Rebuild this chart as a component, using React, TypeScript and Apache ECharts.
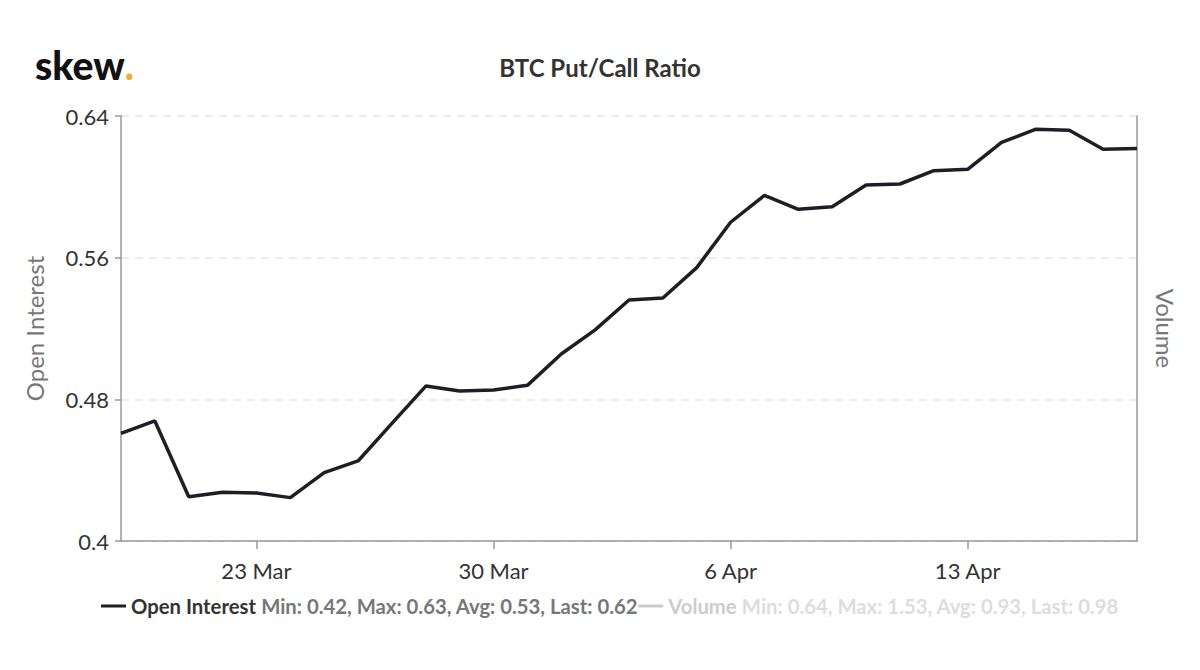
import React, { useEffect, useRef } from "react";
import * as echarts from "echarts";

const dates: string[] = [
  "19 Mar", "20 Mar", "21 Mar", "22 Mar", "23 Mar", "24 Mar", "25 Mar", "26 Mar", "27 Mar", "28 Mar",
  "29 Mar", "30 Mar", "31 Mar", "1 Apr", "2 Apr", "3 Apr", "4 Apr", "5 Apr", "6 Apr", "7 Apr",
  "8 Apr", "9 Apr", "10 Apr", "11 Apr", "12 Apr", "13 Apr", "14 Apr", "15 Apr", "16 Apr", "17 Apr", "18 Apr",
];

const openInterest: number[] = [
  0.4608, 0.4678, 0.425, 0.4275, 0.4271, 0.4245, 0.4386, 0.4452, 0.4664, 0.4875,
  0.4847, 0.4853, 0.4879, 0.5056, 0.5192, 0.5361, 0.5372, 0.5544, 0.58, 0.5952,
  0.5873, 0.5888, 0.601, 0.6016, 0.6091, 0.6099, 0.6251, 0.6325, 0.6319, 0.6212, 0.6216,
];

// Volume series is hidden in the reference (legend item disabled); its values are not visible.
const volume: number[] = [];

const tickLabels: string[] = ["23 Mar", "30 Mar", "6 Apr", "13 Apr"];
const yTicks: number[] = [0.4, 0.48, 0.56, 0.64];

const openInterestStats = "Min: 0.42, Max: 0.63, Avg: 0.53, Last: 0.62";
const volumeStats = "Min: 0.64, Max: 1.53, Avg: 0.93, Last: 0.98";

const FONT = "Lato, 'Noto Sans', sans-serif";
const LEGEND_FS = 20.3;

export default function App() {
  const ref = useRef<HTMLDivElement>(null);

  useEffect(() => {
    if (!ref.current) return;
    const chart = echarts.init(ref.current, undefined, { renderer: "svg" });
    const showIdx = (i: number) => tickLabels.includes(dates[i]);
    chart.setOption({
      animation: false,
      backgroundColor: "#ffffff",
      textStyle: { fontFamily: FONT },
      title: {
        text: "BTC Put/Call Ratio",
        left: "center",
        top: 50,
        textStyle: { fontFamily: FONT, fontSize: 24, fontWeight: "bold", color: "#333333" },
      },
      graphic: [
        {
          type: "text",
          left: 35,
          top: 45,
          style: {
            text: "{a|skew}{b|.}",
            rich: {
              a: { fontFamily: FONT, fontSize: 39, fontWeight: 900, fill: "#111111" },
              b: { fontFamily: FONT, fontSize: 39, fontWeight: 900, fill: "#f0ad2e" },
            },
          },
        },
      ],
      legend: {
        left: 96,
        top: 591,
        icon: "rect",
        itemWidth: 25,
        itemHeight: 3,
        itemGap: 0,
        inactiveColor: "#cccccc",
        selected: { "Open Interest": true, Volume: false },
        data: ["Open Interest", "Volume"],
        formatter: (name: string) =>
          name === "Volume"
            ? `{vn|${name}} {vs|${volumeStats}}`
            : `{n|${name}} {s|${openInterestStats}}`,
        textStyle: {
          fontFamily: FONT,
          fontSize: LEGEND_FS,
          rich: {
            n: { fontFamily: FONT, fontSize: LEGEND_FS, fontWeight: "bold", color: "#333333" },
            s: { fontFamily: FONT, fontSize: LEGEND_FS, fontWeight: "bold", color: "#777777" },
            vn: { fontFamily: FONT, fontSize: LEGEND_FS, fontWeight: "bold", color: "#cccccc" },
            vs: { fontFamily: FONT, fontSize: LEGEND_FS, fontWeight: "bold", color: "#dddddd" },
          },
        },
      },
      grid: { left: 121, right: 63, top: 116, bottom: 129, containLabel: false },
      xAxis: {
        type: "category",
        data: dates,
        boundaryGap: false,
        axisLine: { lineStyle: { color: "#999999", width: 1.5 } },
        axisTick: {
          show: true,
          interval: (i: number) => showIdx(i),
          length: 8,
          lineStyle: { color: "#999999", width: 1.5 },
        },
        axisLabel: {
          interval: (i: number) => showIdx(i),
          fontFamily: FONT,
          fontSize: 22,
          color: "#333333",
          margin: 18,
        },
        splitLine: { show: false },
      },
      yAxis: [
        {
          type: "value",
          min: yTicks[0],
          max: yTicks[yTicks.length - 1],
          interval: 0.08,
          name: "Open Interest",
          nameLocation: "middle",
          nameGap: 75,
          nameTextStyle: { fontFamily: FONT, fontSize: 24, color: "#777777" },
          axisLine: { show: true, lineStyle: { color: "#999999", width: 1.5 } },
          axisTick: { show: true, length: 6, lineStyle: { color: "#999999", width: 1.5 } },
          axisLabel: {
            fontFamily: FONT,
            fontSize: 22,
            color: "#333333",
            margin: 12,
            formatter: (v: number) => String(Number(v.toFixed(2))),
          },
          splitLine: {
            show: true,
            lineStyle: { color: "#e6e6e6", type: [8, 6], width: 1.5 },
          },
        },
        {
          type: "value",
          name: "Volume",
          nameLocation: "middle",
          nameGap: 16,
          nameRotate: -90,
          nameTextStyle: { fontFamily: FONT, fontSize: 24, color: "#777777" },
          position: "right",
          axisLine: { show: true, lineStyle: { color: "#999999", width: 1.5 } },
          axisTick: { show: false },
          axisLabel: { show: false },
          splitLine: { show: false },
        },
      ],
      series: [
        {
          name: "Open Interest",
          type: "line",
          data: openInterest,
          yAxisIndex: 0,
          showSymbol: false,
          symbol: "none",
          lineStyle: { color: "#1e1f26", width: 3.5 },
          itemStyle: { color: "#1e1f26" },
        },
        {
          name: "Volume",
          type: "line",
          data: volume,
          yAxisIndex: 1,
          showSymbol: false,
          symbol: "none",
          lineStyle: { color: "#bbbbbb", width: 3 },
          itemStyle: { color: "#bbbbbb" },
        },
      ],
    });
    return () => chart.dispose();
  }, []);

  return (
    <div
      ref={ref}
      style={{ position: "fixed", left: 0, top: 0, width: 1200, height: 670 }}
    />
  );
}
